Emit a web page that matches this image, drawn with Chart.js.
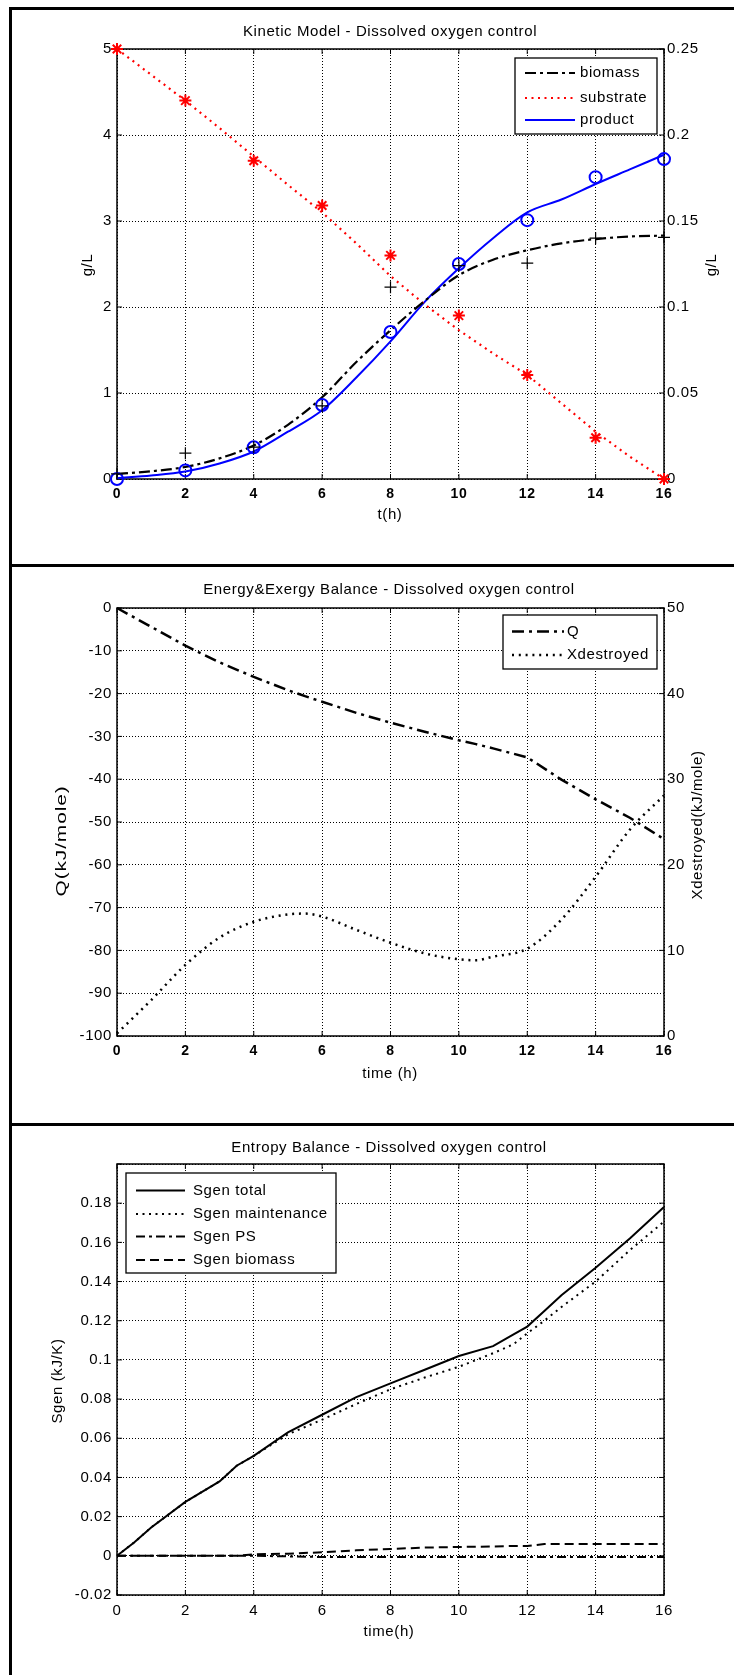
<!DOCTYPE html>
<html>
<head>
<meta charset="utf-8">
<script src="https://cdn.jsdelivr.net/npm/chart.js@4.4.0/dist/chart.umd.min.js"></script>
<style>
  body { margin: 0; background: #fff; width: 734px; height: 1675px; position: relative; overflow: hidden; }
  canvas { position: absolute; left: 0; }
  .rule { position: absolute; background: #000; }
</style>
</head>
<body>
<canvas id="kinetic" width="734" height="566" style="top:0"></canvas>
<canvas id="energy" width="734" height="559" style="top:566px"></canvas>
<canvas id="entropy" width="734" height="550" style="top:1125px"></canvas>
<div class="rule" style="left:9px;top:7px;width:3px;height:1668px"></div>
<div class="rule" style="left:9px;top:7px;width:725px;height:3px"></div>
<div class="rule" style="left:9px;top:564px;width:725px;height:3px"></div>
<div class="rule" style="left:9px;top:1123px;width:725px;height:3px"></div>
<script>
// ---- kinetic model (panel 1) ----
const tModel = [0, 1, 2, 3, 4, 5, 6, 7, 8, 9, 10, 11, 12, 13, 14, 15, 16];
const biomassModel = [0.06, 0.09, 0.14, 0.24, 0.39, 0.63, 0.95, 1.36, 1.73, 2.07, 2.37, 2.55, 2.66, 2.74, 2.79, 2.82, 2.83];
const substrateModel = [5.0, 4.7, 4.4, 4.08, 3.75, 3.42, 3.1, 2.74, 2.36, 2.03, 1.73, 1.46, 1.21, 0.88, 0.55, 0.26, 0.0];
const productModel = [0.0005, 0.002, 0.0043, 0.009, 0.016, 0.0275, 0.040, 0.059, 0.080, 0.103, 0.1225, 0.140, 0.155, 0.1625, 0.1715, 0.180, 0.1885];
const tExp = [0, 2, 4, 6, 8, 10, 12, 14, 16];
const biomassExp = [0.06, 0.30, 0.37, 0.85, 2.23, 2.48, 2.51, 2.80, 2.81];
const substrateExp = [5.0, 4.4, 3.7, 3.18, 2.6, 1.9, 1.21, 0.48, 0.0];
const productExp = [0.0, 0.005, 0.0185, 0.043, 0.0855, 0.125, 0.1505, 0.1755, 0.186];

// ---- energy & exergy (panel 2) ----
const tEnergy = [0, 1, 2, 3, 4, 5, 5.5, 6, 7, 8, 9, 10, 10.5, 11, 12, 13, 14, 15, 16];
const heatQ = [0, -4.4, -8.8, -12.7, -16.1, -19.2, -20.6, -21.9, -24.5, -26.8, -28.9, -30.9, -31.8, -32.8, -34.9, -40.1, -44.7, -49.0, -54.0];
const exergyDestroyed = [0.3, 4.2, 8.3, 11.5, 13.35, 14.2, 14.3, 13.95, 12.4, 10.9, 9.65, 8.96, 8.85, 9.27, 10.2, 13.6, 18.6, 24.1, 28.1];

// ---- entropy (panel 3) ----
const tEntropy = [0, 0.5, 1, 2, 3, 3.5, 4, 5, 6, 7, 8, 9, 10, 11, 11.6, 12, 12.5, 13, 14, 15, 16];
const sgenTotal = [0, 0.0068, 0.0145, 0.0275, 0.038, 0.046, 0.051, 0.063, 0.072, 0.081, 0.088, 0.095, 0.102, 0.107, 0.113, 0.117, 0.125, 0.133, 0.147, 0.162, 0.178];
const sgenMaint = [0, 0.0068, 0.0145, 0.0275, 0.038, 0.046, 0.051, 0.062, 0.0695, 0.0775, 0.085, 0.091, 0.0965, 0.1034, 0.108, 0.1136, 0.12, 0.127, 0.140, 0.156, 0.1706];
const sgenPS = [0, 0, 0, 0, 0, 0, 0, -0.0003, -0.0006, -0.0006, -0.0006, -0.0006, -0.0006, -0.0006, -0.0006, -0.0006, -0.0006, -0.0006, -0.0006, -0.0006, -0.0006];
const sgenBiomass = [0, 0, 0, 0, 0, 0, 0.0008, 0.0011, 0.0018, 0.0028, 0.0035, 0.0042, 0.0045, 0.0048, 0.005, 0.005, 0.006, 0.006, 0.006, 0.006, 0.006];

const FONT = '"Liberation Sans", Arial, sans-serif';
const SPACING = '0.6px';
Chart.defaults.font.family = FONT;
Chart.defaults.font.size = 15;
Chart.defaults.color = '#000';

const pts = (xs, ys) => xs.map((x, i) => ({ x, y: ys[i] }));
const fmt = v => String(+v.toFixed(4));

// text + legend placement per panel (canvas pixels); 4th entry of a y title = stretch
const panelText = {
  kinetic: {
    title: ['Kinetic Model - Dissolved oxygen control', 390, 32],
    xTitle: ['t(h)', 390, 515],
    yTitles: [['g/L', 88, 265, 1], ['g/L', 712, 265, 1]],
    legend: { box: [515, 58, 657, 134], rows: [[0, 73], [1, 98], [2, 120]], sample: [525, 575], textX: 580 }
  },
  energy: {
    title: ['Energy&Exergy Balance - Dissolved oxygen control', 389, 24],
    xTitle: ['time (h)', 390, 508],
    yTitles: [['Q(kJ/mole)', 62, 275, 1.4], ['Xdestroyed(kJ/mole)', 698, 259, 1]],
    legend: { box: [503, 49, 657, 103], rows: [[0, 65.5], [1, 89]], sample: [512, 564], textX: 567 }
  },
  entropy: {
    title: ['Entropy Balance - Dissolved oxygen control', 389, 23],
    xTitle: ['time(h)', 389, 507],
    yTitles: [['Sgen (kJ/K)', 58, 256, 1]],
    legend: { box: [126, 48, 336, 148], rows: [[0, 65.5], [1, 89], [2, 111.5], [3, 135]], sample: [136, 185], textX: 193 }
  }
};

const matlabFrame = {
  id: 'matlabFrame',
  beforeDraw(chart) {
    chart.ctx.letterSpacing = SPACING;
  },
  beforeDatasetsDraw(chart) {
    const { ctx, chartArea: a, scales } = chart;
    ctx.save();
    ctx.strokeStyle = '#000';
    ctx.setLineDash([]);
    ctx.lineWidth = 1;
    ctx.beginPath();
    scales.x.ticks.forEach(t => {
      const px = scales.x.getPixelForValue(t.value);
      ctx.moveTo(px, a.top); ctx.lineTo(px, a.top + 5);
      ctx.moveTo(px, a.bottom); ctx.lineTo(px, a.bottom - 5);
    });
    scales.y.ticks.forEach(t => {
      const py = scales.y.getPixelForValue(t.value);
      ctx.moveTo(a.left, py); ctx.lineTo(a.left + 5, py);
      if (!scales.y1) { ctx.moveTo(a.right, py); ctx.lineTo(a.right - 5, py); }
    });
    if (scales.y1) {
      scales.y1.ticks.forEach(t => {
        const py = scales.y1.getPixelForValue(t.value);
        ctx.moveTo(a.right, py); ctx.lineTo(a.right - 5, py);
      });
    }
    ctx.stroke();
    ctx.lineWidth = 1.5;
    ctx.strokeRect(a.left, a.top, a.right - a.left, a.bottom - a.top);
    ctx.restore();
  },
  afterDraw(chart) {
    const cfg = panelText[chart.canvas.id];
    const ctx = chart.ctx;
    ctx.save();
    ctx.letterSpacing = SPACING;
    ctx.fillStyle = '#000';
    ctx.font = '15px ' + FONT;
    ctx.textBaseline = 'middle';
    ctx.textAlign = 'center';
    ctx.fillText(cfg.title[0], cfg.title[1], cfg.title[2]);
    ctx.fillText(cfg.xTitle[0], cfg.xTitle[1], cfg.xTitle[2]);
    cfg.yTitles.forEach(([txt, x, y, stretch]) => {
      ctx.save();
      ctx.translate(x, y);
      ctx.rotate(-Math.PI / 2);
      ctx.scale(stretch, 1);
      ctx.fillText(txt, 0, 0);
      ctx.restore();
    });
    // legend
    const lg = cfg.legend;
    const [l, t, r, b] = lg.box;
    ctx.fillStyle = '#fff';
    ctx.fillRect(l, t, r - l, b - t);
    ctx.strokeStyle = '#000';
    ctx.lineWidth = 1.3;
    ctx.setLineDash([]);
    ctx.strokeRect(l, t, r - l, b - t);
    ctx.textAlign = 'left';
    lg.rows.forEach(([idx, y]) => {
      const ds = chart.data.datasets[idx];
      ctx.save();
      ctx.strokeStyle = ds.borderColor;
      ctx.lineWidth = ds.borderWidth;
      ctx.setLineDash(ds.borderDash || []);
      ctx.beginPath();
      ctx.moveTo(lg.sample[0], y);
      ctx.lineTo(lg.sample[1], y);
      ctx.stroke();
      ctx.restore();
      ctx.fillStyle = '#000';
      ctx.fillText(ds.label, lg.textX, y);
    });
    ctx.restore();
  }
};

function xAxis(height, bold) {
  return {
    type: 'linear', min: 0, max: 16,
    ticks: { stepSize: 2, padding: 7, callback: fmt, font: { size: bold ? 14 : 15, weight: bold ? 'bold' : 'normal' } },
    grid: { color: '#000', lineWidth: 1, drawTicks: false },
    border: { display: false, dash: [1, 2] },
    afterFit: s => { s.height = height; }
  };
}
function yAxis(min, max, step, width, position, hideTop) {
  return {
    type: 'linear', position, min, max,
    ticks: {
      stepSize: step, padding: position === 'left' ? 5 : 3,
      callback: v => (hideTop && v >= max - step / 4) ? '' : fmt(v)
    },
    grid: { display: position === 'left', color: '#000', lineWidth: 1, drawTicks: false },
    border: { display: false, dash: [1, 2] },
    afterFit: s => { s.width = width; }
  };
}
function lineSet(label, xs, ys, color, width, dash, extra) {
  return Object.assign({
    label, data: pts(xs, ys), showLine: true, pointRadius: 0,
    borderColor: color, backgroundColor: color, borderWidth: width, borderDash: dash,
    tension: 0, clip: false
  }, extra || {});
}
function markerSet(label, xs, ys, color, style, radius, width, axis) {
  return {
    label, data: pts(xs, ys), showLine: false, pointStyle: style, pointRadius: radius,
    pointBorderColor: color, pointBackgroundColor: 'rgba(0,0,0,0)', pointBorderWidth: width,
    yAxisID: axis, clip: false
  };
}
const baseOptions = (scales, padding) => ({
  responsive: false, animation: false,
  layout: { padding },
  plugins: { legend: { display: false }, tooltip: { enabled: false }, title: { display: false } },
  scales
});

new Chart(document.getElementById('kinetic'), {
  type: 'scatter',
  data: {
    datasets: [
      lineSet('biomass', tModel, biomassModel, '#000', 2.2, [11, 4, 3, 4], { cubicInterpolationMode: 'monotone' }),
      lineSet('substrate', tModel, substrateModel, '#ff0000', 2.2, [2, 4.5]),
      lineSet('product', tModel, productModel, '#0000ff', 2, [], { yAxisID: 'y1', cubicInterpolationMode: 'monotone' }),
      markerSet('biomass data', tExp, biomassExp, '#000', 'cross', 6, 1.2, 'y'),
      markerSet('substrate data', tExp, substrateExp, '#ff0000', 'star', 6, 2, 'y'),
      markerSet('product data', tExp, productExp, '#0000ff', 'circle', 6, 2, 'y1')
    ].map((d, i) => Object.assign(d, { order: i < 3 ? 2 : 1 }))
  },
  options: baseOptions({
    x: xAxis(87, true),
    y: yAxis(0, 5, 1, 117, 'left', false),
    y1: yAxis(0, 0.25, 0.05, 70, 'right', false)
  }, { top: 49, left: 0, right: 0, bottom: 0 }),
  plugins: [matlabFrame]
});

new Chart(document.getElementById('energy'), {
  type: 'scatter',
  data: {
    datasets: [
      lineSet('Q', tEnergy, heatQ, '#000', 2.5, [12, 5, 3, 5]),
      lineSet('Xdestroyed', tEnergy, exergyDestroyed, '#000', 2.5, [2, 4.8], { yAxisID: 'y1', cubicInterpolationMode: 'monotone' })
    ]
  },
  options: baseOptions({
    x: xAxis(89, true),
    y: yAxis(-100, 0, 10, 117, 'left', false),
    y1: yAxis(0, 50, 10, 70, 'right', false)
  }, { top: 42, left: 0, right: 0, bottom: 0 }),
  plugins: [matlabFrame]
});

new Chart(document.getElementById('entropy'), {
  type: 'scatter',
  data: {
    datasets: [
      lineSet('Sgen total', tEntropy, sgenTotal, '#000', 2, []),
      lineSet('Sgen maintenance', tEntropy, sgenMaint, '#000', 2, [2, 4.5]),
      lineSet('Sgen PS', tEntropy, sgenPS, '#000', 2, [9, 4, 3, 4]),
      lineSet('Sgen biomass', tEntropy, sgenBiomass, '#000', 2, [9, 5])
    ]
  },
  options: baseOptions({
    x: xAxis(80, false),
    y: yAxis(-0.02, 0.2, 0.02, 117, 'left', true)
  }, { top: 39, left: 0, right: 70, bottom: 0 }),
  plugins: [matlabFrame]
});
</script>
</body>
</html>
